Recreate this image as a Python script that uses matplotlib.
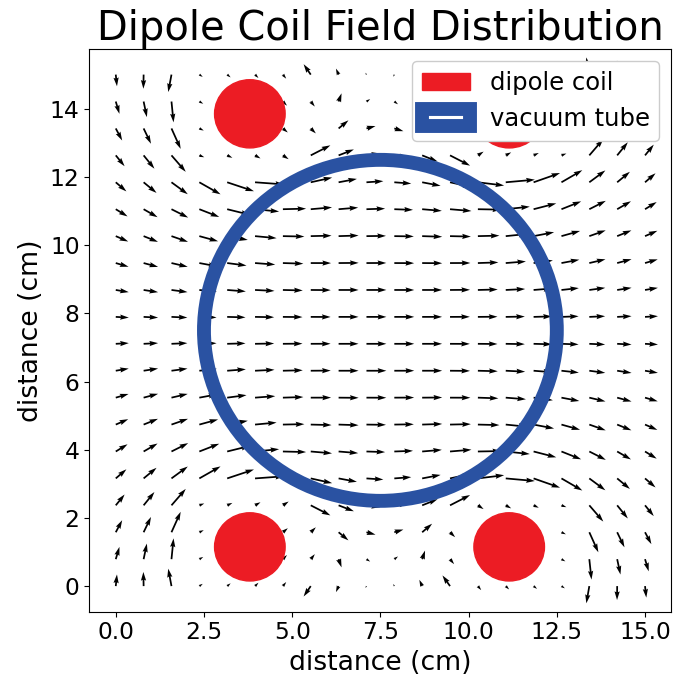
import numpy as np
import matplotlib
matplotlib.use("Agg")
import matplotlib.pyplot as plt
from matplotlib.patches import Circle

# ---- data ----
grid_x = np.linspace(0, 15, 20)
grid_y = np.linspace(0, 15, 20)
coil_x = [3.8, 11.15, 3.8, 11.15]
coil_y = [13.85, 13.85, 1.15, 1.15]
coil_current = [1.0, 1.0, -1.0, -1.0]
coil_radius = 1.0
coil_mask_radius = 1.95
near_coil_damping = 0.75
tube_center = (7.5, 7.5)
tube_radius = 5.0

X, Y = np.meshgrid(grid_x, grid_y)
U = np.zeros_like(X)
V = np.zeros_like(Y)
near_any = np.zeros_like(X, dtype=bool)
for cx, cy, cur in zip(coil_x, coil_y, coil_current):
    dx = X - cx
    dy = Y - cy
    r2 = dx**2 + dy**2
    near = np.sqrt(r2) < coil_mask_radius
    near_any |= near
    U += np.where(near, 0.0, -cur * dy / r2)
    V += np.where(near, 0.0, cur * dx / r2)
U = np.where(near_any, U * near_coil_damping, U)
V = np.where(near_any, V * near_coil_damping, V)

fig = plt.figure(figsize=(6.75, 6.81), dpi=100)
ax = fig.add_axes([0.1323, 0.1018, 0.8625, 0.8262])

ax.quiver(X, Y, U, V, scale=13.8, color='black')

red = '#ec1c24'
blue = '#2a52a2'
for i, (cx, cy) in enumerate(zip(coil_x, coil_y)):
    ax.add_patch(Circle((cx, cy), coil_radius, color=red,
                        label='dipole coil' if i == 0 else None))
ax.add_patch(Circle(tube_center, tube_radius, fill=False, edgecolor=blue,
                    linewidth=10, label='vacuum tube'))

ax.set_xlim(-0.75, 15.75)
ax.set_ylim(-0.75, 15.75)
ax.set_xticks([0, 2.5, 5, 7.5, 10, 12.5, 15])
ax.set_yticks([0, 2, 4, 6, 8, 10, 12, 14])
ax.tick_params(labelsize=16.8)
ax.set_xlabel('distance (cm)', fontsize=19.2)
ax.set_ylabel('distance (cm)', fontsize=19.2)
ax.set_title('Dipole Coil Field Distribution', fontsize=28.8)
ax.legend(loc='upper right', fontsize=17.5, framealpha=1.0)

fig.savefig('out.png', dpi=100)
